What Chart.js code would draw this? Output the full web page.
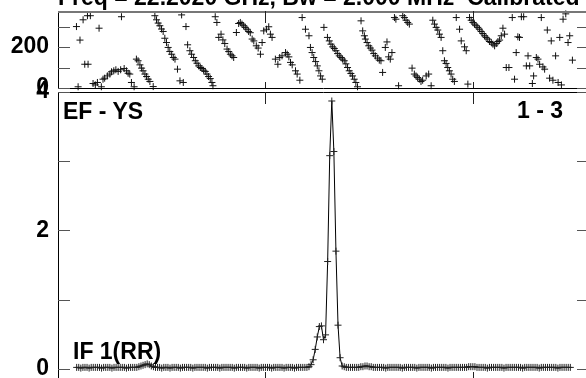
<!DOCTYPE html>
<html>
<head>
<meta charset="utf-8">
<script src="https://cdn.jsdelivr.net/npm/chart.js@4.4.1/dist/chart.umd.min.js"></script>
<style>
  html, body { margin: 0; padding: 0; background: #fff; }
  #wrap { position: relative; width: 586px; height: 378px; overflow: hidden; background: #fff; }
  canvas { position: absolute; left: 0; }
  #phaseChart { top: -14px; }
  #ampChart { top: 67px; }
  .lbl { position: absolute; font: bold 23px "Liberation Sans", Arial, sans-serif; line-height: 23px; color: #000; white-space: nowrap; }
</style>
</head>
<body>
<div id="wrap">
  <canvas id="phaseChart" width="600" height="127"></canvas>
  <canvas id="ampChart" width="600" height="345"></canvas>
  <div class="lbl" style="left:58px; top:-14px;">Freq = 22.2020 GHz, Bw = 2.000 MHz&nbsp;&nbsp;Calibrated</div>
  <div class="lbl" style="left:63px; top:100px;">EF - YS</div>
  <div class="lbl" style="left:517px; top:99px;">1 - 3</div>
  <div class="lbl" style="left:73px; top:340px;">IF 1(RR)</div>
</div>
<script>
// amplitude per channel, starting at channel 9
var firstChannel = 9;
var ampValues = [
  0.02,
  0.02, 0.01, 0.02, 0.02, 0.02, 0.01, 0.02, 0.02, 0.02, 0.02,
  0.02, 0.01, 0.02, 0.02, 0.02, 0.02, 0.01, 0.02, 0.02, 0.02,
  0.02, 0.02, 0.02, 0.01, 0.02, 0.02, 0.02, 0.02, 0.02, 0.03,
  0.04, 0.05, 0.06, 0.07, 0.06, 0.04, 0.03, 0.02, 0.02, 0.02,
  0.01, 0.02, 0.02, 0.02, 0.01, 0.02, 0.02, 0.02, 0.02, 0.01,
  0.02, 0.02, 0.02, 0.02, 0.02, 0.01, 0.02, 0.02, 0.02, 0.02,
  0.02, 0.02, 0.01, 0.02, 0.02, 0.02, 0.02, 0.02, 0.01, 0.02,
  0.02, 0.02, 0.02, 0.02, 0.02, 0.01, 0.02, 0.02, 0.02, 0.02,
  0.02, 0.01, 0.02, 0.02, 0.02, 0.02, 0.02, 0.01, 0.02, 0.02,
  0.02, 0.02, 0.02, 0.01, 0.02, 0.02, 0.02, 0.02, 0.02, 0.01,
  0.02, 0.02, 0.02, 0.02, 0.01, 0.02, 0.02, 0.02, 0.02, 0.02,
  0.02, 0.03, 0.06, 0.13, 0.28, 0.46, 0.61, 0.62, 0.42, 0.49,
  1.55, 3.08, 3.87, 3.14, 1.70, 0.63, 0.16, 0.04, 0.03, 0.02,
  0.02, 0.02, 0.02, 0.02, 0.02, 0.02, 0.03, 0.03, 0.04, 0.04,
  0.03, 0.03, 0.02, 0.02, 0.02, 0.02, 0.02, 0.02, 0.01, 0.02,
  0.02, 0.02, 0.02, 0.02, 0.02, 0.02, 0.01, 0.02, 0.02, 0.02,
  0.02, 0.02, 0.02, 0.01, 0.02, 0.02, 0.02, 0.02, 0.02, 0.02,
  0.01, 0.02, 0.02, 0.02, 0.02, 0.02, 0.02, 0.02, 0.01, 0.02,
  0.02, 0.02, 0.02, 0.02, 0.02, 0.02, 0.02, 0.02, 0.03, 0.03,
  0.03, 0.03, 0.02, 0.02, 0.02, 0.02, 0.02, 0.01, 0.02, 0.02,
  0.02, 0.02, 0.02, 0.02, 0.02, 0.01, 0.02, 0.02, 0.02, 0.02,
  0.02, 0.02, 0.02, 0.02, 0.01, 0.02, 0.02, 0.02, 0.02, 0.02,
  0.02, 0.02, 0.01, 0.02, 0.02, 0.02, 0.02, 0.02, 0.02, 0.02,
  0.02, 0.01, 0.02, 0.02, 0.02, 0.02, 0.02, 0.02
];

// phase points (channel, degrees)
var phaseChannels = [
  8.9, 9.7, 10.6, 12.1, 12.9, 14.2, 14.5, 15.6, 16.9, 18.0, 19.0, 19.8, 20.9, 21.7, 22.5, 23.8,
  25.0, 25.8, 26.9, 27.9, 29.0, 30.2, 30.6, 31.9, 33.0, 33.8, 34.6, 35.4, 36.7, 37.8, 38.6, 39.5,
  40.3, 41.0, 41.9, 42.7, 43.5, 44.3, 45.9, 46.7, 47.5, 48.3, 49.1, 49.9, 50.7, 51.5, 52.3, 53.1,
  53.9, 54.8, 55.6, 56.4, 57.6, 58.8, 59.6, 60.4, 61.7, 62.5, 63.6, 64.4,
  65.4, 66.2, 67.0, 67.8, 68.6, 69.4, 70.2, 71.0, 71.8, 72.6, 73.4, 74.2, 74.7, 75.8, 76.6, 77.5,
  78.6, 79.5, 80.4, 81.5, 82.3, 83.1, 83.9, 84.7, 86.0, 87.1, 87.9, 88.7, 89.5, 90.3, 91.1, 91.9,
  92.7, 93.6, 94.4, 95.6, 96.5, 97.6, 98.4, 99.2, 100.5, 101.6, 102.4, 103.2, 104.8, 106.0, 106.9, 108.0,
  109.7, 110.5, 111.3, 112.1, 112.9, 114.5, 115.3, 116.6, 117.7, 119.3, 121.0, 121.7, 122.5, 123.3, 124.2, 125.0,
  125.8, 126.6, 127.4, 128.2,
  129.9, 130.8, 131.6, 132.4, 133.2, 134.0, 134.8, 135.6, 136.4, 137.2, 138.0, 138.8, 139.6, 140.4, 141.2, 142.0,
  142.8, 143.6, 144.4, 146.1, 146.9, 147.7, 148.2, 149.0, 149.8, 150.6, 151.4, 152.2, 153.0, 154.1, 154.9, 155.7,
  156.5, 157.8, 158.6, 159.4, 160.2, 161.0, 162.2, 162.9, 164.2, 166.2, 167.0, 167.8, 168.6, 169.4, 170.7, 171.8,
  172.6, 173.4, 174.2, 175.0, 175.8, 177.5, 178.7, 179.9, 180.7, 181.5, 182.3, 183.1, 183.9, 184.7, 185.5, 186.3,
  187.1, 187.9, 188.7, 189.5, 190.3, 191.1, 192.0,
  193.6, 194.4, 196.0, 196.8, 197.6, 198.4, 199.2, 200.0, 200.8, 201.6, 202.4, 203.2, 204.0, 204.8, 205.6, 206.4,
  207.2, 208.0, 208.9, 209.7, 210.5, 211.3, 212.1, 212.9, 213.7, 214.5, 215.3, 216.1, 217.4, 219.0, 220.1, 220.9,
  221.7, 222.5, 223.4, 224.5, 225.8, 226.6, 227.4, 228.7, 229.3, 230.6, 231.4, 232.2, 233.0, 233.8, 234.6, 235.9,
  237.0, 237.8, 238.6, 239.9, 241.1, 241.9, 242.7, 243.5, 244.8, 245.9, 246.7, 248.0
];
var phaseValues = [
  300, 6, 234, 333, 116, 353, 116, 353, 22, 15, 27, 292, 6, 43, 48, 59,
  68, 79, 84, 89, 81, 89, 348, 95, 84, 72, 68, 27, 6, 141, 133, 113,
  97, 84, 68, 56, 43, 32, 7, 353, 333, 317, 304, 288, 276, 243, 222, 198,
  178, 165, 149, 141, 92, 35, 357, 27, 300, 211, 182, 165,
  149, 133, 121, 108, 100, 95, 87, 81, 68, 56, 46, 27, 11, 348, 320, 247,
  263, 235, 217, 190, 178, 165, 157, 149, 271, 315, 320, 312, 304, 296, 287, 276,
  270, 239, 230, 206, 195, 165, 222, 279, 287, 299, 263, 247, 141, 116, 149, 157,
  173, 165, 152, 125, 113, 84, 68, 38, 344, 287, 255, 198, 173, 149, 129, 108,
  84, 59, 43, 296,
  247, 230, 214, 201, 193, 182, 168, 157, 149, 141, 133, 118, 100, 84, 71, 59,
  43, 27, 6, 328, 279, 255, 239, 222, 206, 195, 185, 168, 157, 146, 136, 133,
  76, 198, 225, 152, 141, 173, 344, 336, 11, 353, 344, 331, 320, 312, 97, 68,
  59, 51, 43, 32, 38, 59, 68, 11, 331, 312, 296, 283, 263, 247, 182, 133,
  120, 100, 84, 68, 43, 32, 344,
  287, 230, 201, 182, 19, 344, 331, 320, 312, 304, 296, 287, 276, 266, 255, 247,
  239, 227, 222, 214, 206, 217, 227, 234, 255, 292, 263, 100, 100, 344, 43, 173,
  250, 247, 348, 348, 108, 157, 108, 22, 59, 149, 141, 116, 344, 103, 92, 283,
  48, 230, 38, 157, 27, 247, 15, 336, 362, 222, 255, 136
];

var phaseTicks = [0, 100, 200, 300];
var phaseLabels = [0, 200];
var ampTicks = [0, 1, 2, 3, 4];
var ampLabels = [0, 2, 4];
var channelTicks = [100, 200];

var fontSpec = { family: "'Liberation Sans', Arial, sans-serif", size: 23, weight: "bold" };

var phasePoints = phaseChannels.map(function(c, i) { return { x: c, y: phaseValues[i] }; });
var ampPoints = ampValues.map(function(v, i) { return { x: firstChannel + i, y: v }; });

// frame and inward tick marks, like the AIPS plot
function framePlugin(yTicks, topColor, topWidth, xTickTop, xTickBottom) {
  return {
    id: "frame",
    afterDraw: function(chart) {
      var ctx = chart.ctx;
      var a = chart.chartArea;
      var xs = chart.scales.x;
      var ys = chart.scales.y;
      ctx.save();
      ctx.lineWidth = 1;
      ctx.strokeStyle = "#000";
      ctx.beginPath();
      ctx.moveTo(a.left + 0.5, a.top);
      ctx.lineTo(a.left + 0.5, a.bottom);
      ctx.moveTo(a.right + 0.5, a.top);
      ctx.lineTo(a.right + 0.5, a.bottom);
      ctx.moveTo(a.left, Math.round(a.bottom) + 0.5);
      ctx.lineTo(a.right, Math.round(a.bottom) + 0.5);
      ctx.stroke();

      ctx.strokeStyle = topColor;
      ctx.lineWidth = topWidth;
      ctx.beginPath();
      ctx.moveTo(a.left, Math.round(a.top) + topWidth / 2);
      ctx.lineTo(a.right, Math.round(a.top) + topWidth / 2);
      ctx.stroke();

      ctx.lineWidth = 1;
      ctx.strokeStyle = "#555";
      ctx.beginPath();
      yTicks.forEach(function(v) {
        var y = Math.round(ys.getPixelForValue(v)) + 0.5;
        ctx.moveTo(a.left, y);
        ctx.lineTo(a.left + 12, y);
        ctx.moveTo(a.right, y);
        ctx.lineTo(a.right - 12, y);
      });
      ctx.stroke();

      ctx.strokeStyle = "#222";
      ctx.beginPath();
      channelTicks.forEach(function(c) {
        var x = Math.round(xs.getPixelForValue(c)) + 0.5;
        ctx.moveTo(x, a.top);
        ctx.lineTo(x, a.top + xTickTop);
        ctx.moveTo(x, a.bottom);
        ctx.lineTo(x, a.bottom - xTickBottom);
      });
      ctx.stroke();
      ctx.restore();
    }
  };
}

function yAxis(min, max, ticks, labels) {
  return {
    min: min,
    max: max,
    afterFit: function(s) { s.width = 58; },
    afterBuildTicks: function(s) { s.ticks = ticks.map(function(v) { return { value: v }; }); },
    grid: { display: false, drawTicks: false },
    border: { display: false },
    ticks: {
      padding: 9,
      color: "#000",
      font: fontSpec,
      autoSkip: false,
      callback: function(v) { return labels.indexOf(v) >= 0 ? String(v) : ""; }
    }
  };
}

var phaseChart = new Chart(document.getElementById("phaseChart"), {
  type: "scatter",
  data: {
    datasets: [{
      data: phasePoints,
      pointStyle: "cross",
      pointRadius: 3.5,
      pointBorderColor: "#111",
      pointBorderWidth: 1,
      showLine: false,
      clip: false
    }]
  },
  options: {
    responsive: false,
    animation: false,
    devicePixelRatio: 1,
    layout: { padding: { top: 25, bottom: 25, left: 0, right: 11 } },
    plugins: { legend: { display: false }, tooltip: { enabled: false } },
    scales: {
      x: { type: "linear", min: 0, max: 256, display: false },
      y: yAxis(0, 376, phaseTicks, phaseLabels)
    }
  },
  plugins: [framePlugin(phaseTicks, "#777", 2, 12, 6)]
});

var ampChart = new Chart(document.getElementById("ampChart"), {
  type: "line",
  data: {
    datasets: [{
      data: ampPoints,
      borderColor: "#000",
      borderWidth: 1,
      tension: 0,
      pointStyle: "cross",
      pointRadius: 3.5,
      pointBorderColor: "#222",
      pointBorderWidth: 1,
      clip: false
    }]
  },
  options: {
    responsive: false,
    animation: false,
    devicePixelRatio: 1,
    layout: { padding: { top: 25, bottom: 28, left: 0, right: 11 } },
    plugins: { legend: { display: false }, tooltip: { enabled: false } },
    scales: {
      x: { type: "linear", min: 0, max: 256, display: false },
      y: yAxis(-0.22, 4, ampTicks, ampLabels)
    }
  },
  plugins: [framePlugin(ampTicks, "#000", 1, 12, 12)]
});
</script>
</body>
</html>
